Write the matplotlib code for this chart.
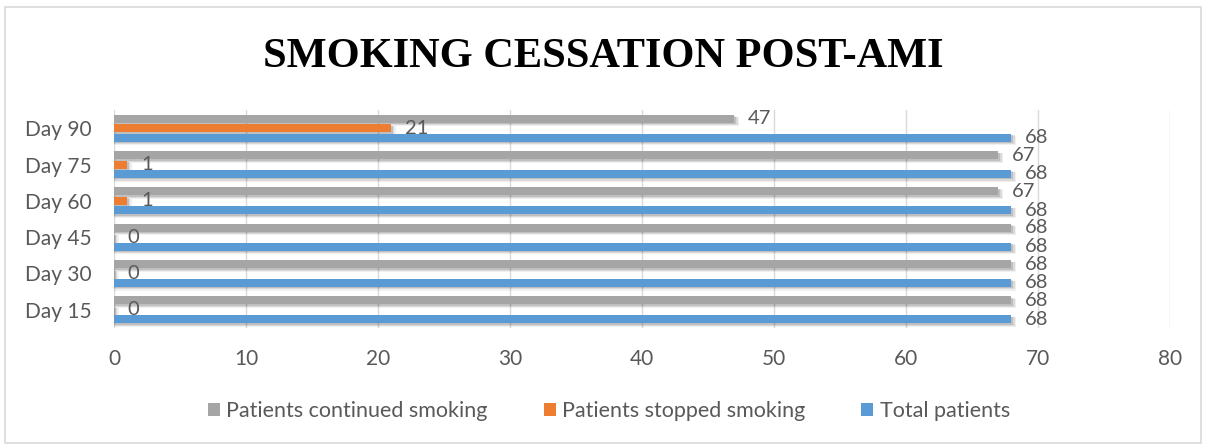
import matplotlib
matplotlib.use("Agg")
import matplotlib.pyplot as plt
from matplotlib.patches import Rectangle
import numpy as np

days = ["Day 15", "Day 30", "Day 45", "Day 60", "Day 75", "Day 90"]
total_patients = [68, 68, 68, 68, 68, 68]
stopped_smoking = [0, 0, 0, 1, 1, 21]
continued_smoking = [68, 68, 68, 67, 67, 47]

GRAY = "#A5A5A5"
ORANGE = "#ED7D31"
BLUE = "#5B9BD5"
TEXT = "#595959"

plt.rcParams["font.family"] = ["Lato", "DejaVu Sans"]

fig = plt.figure(figsize=(12.06, 4.46), dpi=100)
ax = fig.add_axes([0.0945, 0.2646, 0.8755, 0.4887])

y = np.arange(len(days))
h = 0.22
off = 0.26

series = [
    (total_patients, -off, BLUE, "Total patients"),
    (stopped_smoking, 0.0, ORANGE, "Patients stopped smoking"),
    (continued_smoking, off, GRAY, "Patients continued smoking"),
]

handles = {}
for values, dy, color, name in series:
    # soft drop shadow under each bar
    for k, a in enumerate([0.12, 0.09, 0.06]):
        ax.barh(y + dy - 0.04 - 0.02 * k, np.array(values) + 0.15 + 0.1 * k,
                height=h + 0.02 * k, color="#000000", alpha=a,
                linewidth=0, zorder=2)
    bars = ax.barh(y + dy, values, height=h, color=color, linewidth=0,
                   zorder=3, label=name)
    handles[name] = bars
    for yy, v in zip(y, values):
        ax.annotate(str(v), xy=(v, yy + dy), xytext=(10, 0),
                    textcoords="offset points", va="center", ha="left",
                    fontsize=14.5, color=TEXT, zorder=4)

ax.set_xlim(0, 80)
ax.set_ylim(-0.5, 5.5)
ax.set_xticks(np.arange(0, 81, 10))
ax.set_yticks(y)
ax.set_yticklabels(days)
ax.tick_params(axis="both", length=0, labelsize=15, colors=TEXT)
ax.tick_params(axis="x", pad=15)
ax.tick_params(axis="y", pad=16)
ax.grid(axis="x", color="#D9D9D9", linewidth=1, zorder=0)
ax.set_axisbelow(True)
for s in ax.spines.values():
    s.set_visible(False)

fig.text(0.5, 0.872, "SMOKING CESSATION POST-AMI", ha="center", va="center",
         fontsize=30.5, fontweight="bold", family="Liberation Serif",
         color="#000000")

order = ["Patients continued smoking", "Patients stopped smoking",
         "Total patients"]
leg = fig.legend([handles[n] for n in order], order, loc="center",
                 bbox_to_anchor=(0.505, 0.078), ncol=3, frameon=False,
                 handlelength=0.55, handleheight=0.55, handletextpad=0.3,
                 columnspacing=2.6, fontsize=15.5)
for t in leg.get_texts():
    t.set_color(TEXT)

fig.patches.append(Rectangle((0.004, 0.006), 0.992, 0.978,
                             transform=fig.transFigure, fill=False,
                             edgecolor="#D9D9D9", linewidth=1.2))

fig.savefig("out.png", dpi=100)
